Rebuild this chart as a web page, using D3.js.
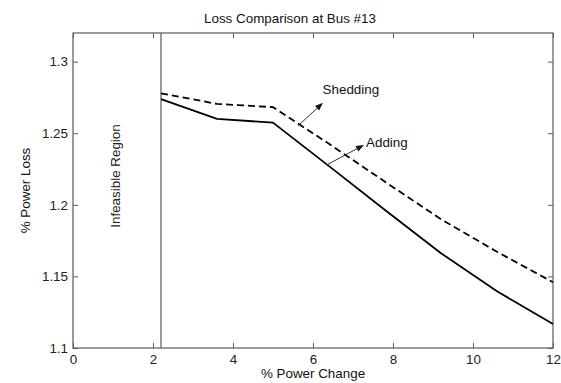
<!DOCTYPE html>
<html>
<head>
<meta charset="utf-8">
<script src="https://cdn.jsdelivr.net/npm/d3@7"></script>
<style>
  html, body { margin: 0; padding: 0; background: #fff; }
  svg { display: block; }
  text { font-family: "Liberation Sans", Arial, Helvetica, sans-serif; }
</style>
</head>
<body>
<svg id="chart" width="561" height="383"></svg>
<script>
// Power change (%) at which the losses were evaluated
const powerChange = [2.2, 3.6, 5.0, 6.4, 7.8, 9.2, 10.6, 12.0];
// % power loss for the two strategies
const addingLoss   = [1.2738, 1.2600, 1.2574, 1.2270, 1.1964, 1.1662, 1.1396, 1.1167];
const sheddingLoss = [1.2779, 1.2705, 1.2682, 1.2426, 1.2161, 1.1899, 1.1672, 1.1459];
// Axis ticks
const xTicks = [0, 2, 4, 6, 8, 10, 12];
const yTicks = [1.1, 1.15, 1.2, 1.25, 1.3];
const yTickLabels = ["1.1", "1.15", "1.2", "1.25", "1.3"];
// Boundary of the infeasible region
const infeasibleLimit = 2.2;
// Annotation arrows: [tailX, tailY, headX, headY], label anchor [x, y]
const sheddingArrow = [5.63, 1.2553, 6.25, 1.2712];
const sheddingLabel = [6.24, 1.2772];
const addingArrow   = [6.34, 1.2278, 7.275, 1.2418];
const addingLabel   = [7.325, 1.2406];

const svg = d3.select("#chart");
const plotL = 73, plotR = 553, plotT = 33, plotB = 348;
const axisColor = "#5a5a5a";
const fs = 13.4;

const x = d3.scaleLinear().domain([0, 12]).range([plotL, plotR]);
const y = d3.scaleLinear().domain([1.1, 1.32]).range([plotB, plotT]);

// Inward ticks on all four sides, labels on left and bottom
const tickLen = 5;
const gB = svg.append("g").attr("transform", `translate(0,${plotB})`)
  .call(d3.axisBottom(x).tickValues(xTicks).tickSizeInner(-tickLen).tickSizeOuter(0).tickPadding(6));
const gL = svg.append("g").attr("transform", `translate(${plotL},0)`)
  .call(d3.axisLeft(y).tickValues(yTicks).tickFormat((d, i) => yTickLabels[i]).tickSizeInner(-tickLen).tickSizeOuter(0).tickPadding(5));
const gT = svg.append("g").attr("transform", `translate(0,${plotT})`)
  .call(d3.axisTop(x).tickValues(xTicks).tickSizeInner(-tickLen).tickSizeOuter(0).tickFormat(""));
const gR = svg.append("g").attr("transform", `translate(${plotR},0)`)
  .call(d3.axisRight(y).tickValues(yTicks).tickSizeInner(-tickLen).tickSizeOuter(0).tickFormat(""));

[gB, gL, gT, gR].forEach(g => {
  g.select(".domain").remove();
  g.selectAll(".tick line").attr("stroke", axisColor).attr("stroke-width", 1);
  g.selectAll(".tick text").attr("fill", "#222").style("font-size", fs + "px")
    .style("font-family", "'Liberation Sans', Arial, sans-serif");
});

// Axes box
svg.append("rect")
  .attr("x", plotL).attr("y", plotT)
  .attr("width", plotR - plotL).attr("height", plotB - plotT)
  .attr("fill", "none").attr("stroke", axisColor).attr("stroke-width", 1.2);

// Infeasible region boundary
svg.append("line")
  .attr("x1", x(infeasibleLimit)).attr("x2", x(infeasibleLimit))
  .attr("y1", plotT).attr("y2", plotB)
  .attr("stroke", axisColor).attr("stroke-width", 1.2);

svg.append("text")
  .attr("transform", `translate(${x(1.05)},176) rotate(-90)`)
  .attr("text-anchor", "middle").attr("dy", "0.35em")
  .attr("fill", "#222").style("font-size", fs + "px")
  .text("Infeasible Region");

// Curves
const line = d3.line().x(d => x(d[0])).y(d => y(d[1]));
svg.append("path")
  .datum(powerChange.map((p, i) => [p, addingLoss[i]]))
  .attr("d", line).attr("fill", "none")
  .attr("stroke", "#000").attr("stroke-width", 1.8).attr("stroke-linejoin", "round");
svg.append("path")
  .datum(powerChange.map((p, i) => [p, sheddingLoss[i]]))
  .attr("d", line).attr("fill", "none")
  .attr("stroke", "#000").attr("stroke-width", 1.8).attr("stroke-dasharray", "7,4");

// Annotation arrows
function arrow(a) {
  const x1 = x(a[0]), y1 = y(a[1]), x2 = x(a[2]), y2 = y(a[3]);
  const ang = Math.atan2(y2 - y1, x2 - x1);
  const L = 8, W = 3;
  const bx = x2 - L * Math.cos(ang), by = y2 - L * Math.sin(ang);
  svg.append("line").attr("x1", x1).attr("y1", y1).attr("x2", bx).attr("y2", by)
    .attr("stroke", "#333").attr("stroke-width", 1);
  const px = -Math.sin(ang) * W, py = Math.cos(ang) * W;
  svg.append("path")
    .attr("d", `M${x2},${y2}L${bx + px},${by + py}L${bx - px},${by - py}Z`)
    .attr("fill", "#111");
}
arrow(sheddingArrow);
arrow(addingArrow);

svg.append("text").attr("x", x(sheddingLabel[0])).attr("y", y(sheddingLabel[1]))
  .attr("fill", "#111").style("font-size", fs + "px").text("Shedding");
svg.append("text").attr("x", x(addingLabel[0])).attr("y", y(addingLabel[1]))
  .attr("fill", "#111").style("font-size", fs + "px").text("Adding");

// Titles
svg.append("text").attr("x", 290).attr("y", 23).attr("text-anchor", "middle")
  .attr("fill", "#111").style("font-size", fs + "px").text("Loss Comparison at Bus #13");
svg.append("text").attr("x", (plotL + plotR) / 2).attr("y", 377.5).attr("text-anchor", "middle")
  .attr("fill", "#111").style("font-size", fs + "px").text("% Power Change");
svg.append("text")
  .attr("transform", `translate(25,${(plotT + plotB) / 2}) rotate(-90)`)
  .attr("text-anchor", "middle").attr("dy", "0.35em")
  .attr("fill", "#111").style("font-size", fs + "px").text("% Power Loss");
</script>
</body>
</html>
